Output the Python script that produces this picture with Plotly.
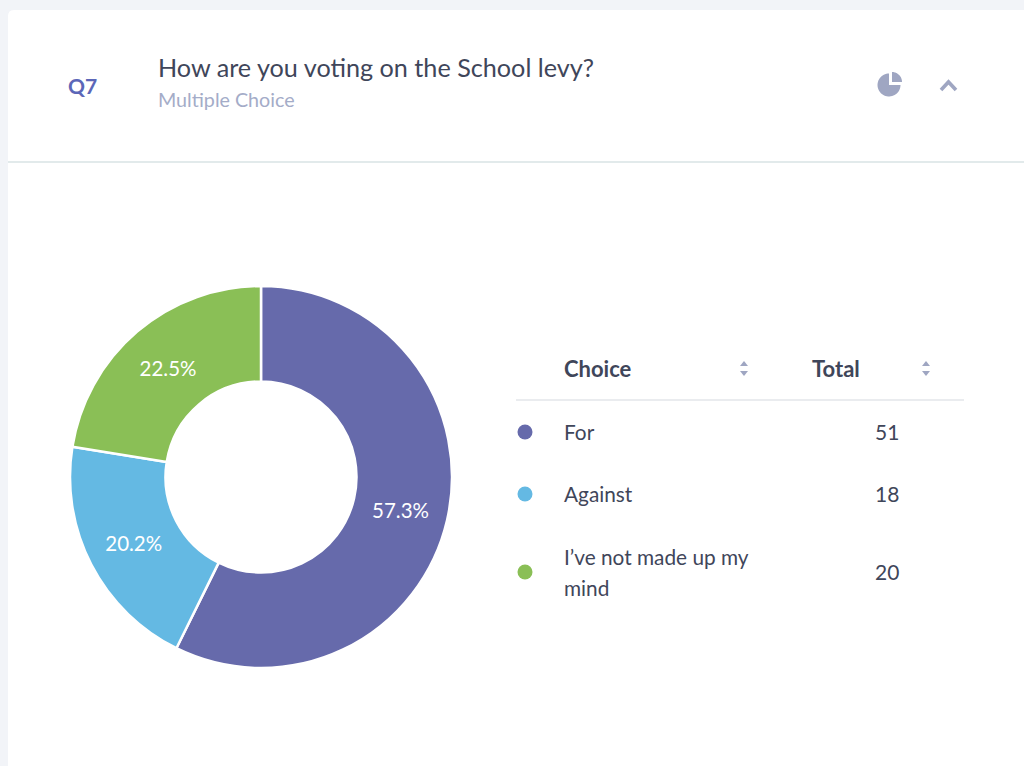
import math
import plotly.graph_objects as go

# data
choices = ["For", "Against", "I’ve not made up my<br>mind"]
totals = [51, 18, 20]
colors = ["#666aab", "#64b9e3", "#8abf56"]
row_y = [432, 494, 572]

title = "How are you voting on the School levy?"
subtitle = "Multiple Choice"
question = "Q7"
headers = ["Choice", "Total"]
header_x = [564, 812]

W, H = 1024, 766
FONT = "Lato"
DARK = "#3f465a"
MUTED = "#a4acc8"
ICON = "#9fa6c2"
LINE_GAP = 31

fig = go.Figure()

# donut, placed in pixels on the page
fig.add_trace(go.Pie(
    labels=[c.replace("<br>", " ") for c in choices],
    values=totals,
    sort=False,
    direction="clockwise",
    rotation=0,
    hole=0.5,
    marker=dict(colors=colors, line=dict(color="white", width=2.5)),
    texttemplate="%{percent:.1%}",
    textposition="inside",
    insidetextorientation="horizontal",
    textfont=dict(family=FONT, size=20.5, color="white"),
    domain=dict(x=[70 / W, 452 / W], y=[1 - 668 / H, 1 - 286 / H]),
    showlegend=False,
    hoverinfo="label+value+percent",
))

# legend dots of the table
fig.add_trace(go.Scatter(
    x=[525] * len(colors),
    y=row_y,
    mode="markers",
    marker=dict(color=colors, size=15),
    showlegend=False,
    hoverinfo="skip",
))


def label(x, y, text, size, color, anchor="left", weight="normal"):
    # annotations sit about 2px right of x, so pull the left anchored ones back
    fig.add_annotation(
        x=x - 2 if anchor == "left" else x + 1,
        y=y, text=text, showarrow=False, xanchor=anchor, yanchor="middle",
        font=dict(family=FONT, size=size, color=color, weight=weight),
        xref="x", yref="y",
    )


def arc(cx, cy, r, start, end, steps=40):
    # polyline along a circle, angles in degrees clockwise from 12 o'clock
    pts = []
    for i in range(steps + 1):
        a = math.radians(start + (end - start) * i / steps)
        pts.append(f"{cx + r * math.sin(a):.2f},{cy - r * math.cos(a):.2f}")
    return " L".join(pts)


label(68, 85.5, question, 21, "#5c67b8", weight="bold")
label(158, 66.5, title, 25.2, DARK)
label(158, 99.5, subtitle, 19.7, MUTED)

for hx, h in zip(header_x, headers):
    label(hx, 368, h, 22, DARK, weight="bold")

for y, c, t in zip(row_y, choices, totals):
    lines = c.split("<br>")
    top = y - LINE_GAP * (len(lines) - 1) / 2
    for i, line in enumerate(lines):
        label(564, top + i * LINE_GAP - 0.5, line, 20.8, DARK)
    label(900, y - 0.5, str(t), 21, DARK, anchor="right")

shapes = [
    # card and rules
    dict(type="path", path=f"M8,16 Q8,10 14,10 L{W},10 L{W},{H} L8,{H} Z",
         fillcolor="white", line_width=0, layer="below"),
    dict(type="line", x0=8, x1=W, y0=162, y1=162, line=dict(color="#d9e3e4", width=1.3), layer="below"),
    dict(type="line", x0=516, x1=964, y0=400, y1=400, line=dict(color="#e3e6ea", width=1.3), layer="below"),
    # chevron
    dict(type="path", path="M941,90 L948.5,82 L956,90", line=dict(color=ICON, width=3.6), layer="below"),
    # pie icon, big part then the small detached wedge
    dict(type="path", path=f"M889,85 L{arc(889, 85, 11.5, 90, 360)} Z", fillcolor=ICON, line_width=0, layer="below"),
    dict(type="path", path=f"M892,82 L{arc(892, 82, 10, 0, 90)} Z", fillcolor=ICON, line_width=0, layer="below"),
]

# sort arrows
for ax in [744, 926]:
    shapes.append(dict(type="path", path=f"M{ax-4},366 L{ax},361 L{ax+4},366 Z", fillcolor=ICON, line_width=0, layer="below"))
    shapes.append(dict(type="path", path=f"M{ax-4},371 L{ax},376 L{ax+4},371 Z", fillcolor=ICON, line_width=0, layer="below"))

fig.update_layout(
    width=W,
    height=H,
    margin=dict(l=0, r=0, t=0, b=0),
    paper_bgcolor="#f2f4f8",
    plot_bgcolor="rgba(0,0,0,0)",
    shapes=shapes,
    xaxis=dict(range=[0, W], visible=False, fixedrange=True),
    yaxis=dict(range=[H, 0], visible=False, fixedrange=True),
)

fig.write_html(
    "out.html",
    config=dict(displayModeBar=False),
    post_script="document.body.style.margin='0';document.body.style.overflow='hidden';",
)
